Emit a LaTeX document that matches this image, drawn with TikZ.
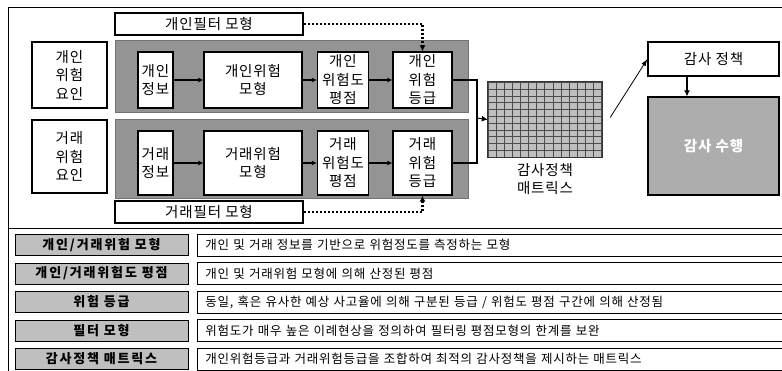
\documentclass[tikz,border=0pt]{standalone}
\usepackage{fontspec}
\usepackage{tikz}
\usetikzlibrary{arrows.meta}
\newfontfamily\kr[LetterSpace=6]{Noto Sans CJK KR}
\newfontfamily\krl[LetterSpace=14]{Noto Sans CJK KR}

\begin{document}
\begin{tikzpicture}[x=1pt,y=-1pt,
	box/.style={draw,line width=1.2pt,fill=white,align=center,inner sep=0pt,font=\kr\fontsize{14.5}{18.5}\selectfont},
	panel/.style={draw=black!55,fill=black!42,inner sep=0pt},
	flow/.style={line width=1.1pt,-{Latex[length=5pt,width=5pt]}},
	dotline/.style={line width=2.2pt,dash pattern=on 2pt off 2pt,-{Latex[length=6pt,width=6pt]}},
	lab/.style={draw,line width=0.9pt,fill=black!25,inner sep=0pt,minimum width=173pt,minimum height=21pt,font=\krl\bfseries\fontsize{13}{15}\selectfont},
	desc/.style={draw,line width=0.9pt,anchor=west,inner xsep=8pt,inner ysep=0pt,minimum height=22pt,text width=584pt,align=left,font=\kr\fontsize{12.5}{14}\selectfont}]

	\useasboundingbox (0,0) rectangle (782,370);

	\draw[line width=1pt] (8,7) -- (790,7);
	\draw[line width=1pt] (8,7) -- (8,375);
	\draw[line width=1pt] (8,228) -- (790,228);

	\node[box,minimum width=188pt,minimum height=22pt] (fltA) at (209,24) {개인필터 모형};
	\node[box,minimum width=75pt,minimum height=66pt] (facA) at (69.5,75) {개인\\위험\\요인};
	\node[panel,minimum width=353pt,minimum height=72pt] (panA) at (291.5,76) {};
	\node[box,minimum width=35pt,minimum height=56pt] (infA) at (155.5,80) {개인\\정보};
	\node[box,minimum width=98pt,minimum height=56pt] (mdlA) at (253,80) {개인위험\\모형};
	\node[box,minimum width=51pt,minimum height=56pt] (scrA) at (343,80) {개인\\위험도\\평점};
	\node[box,minimum width=59pt,minimum height=56pt] (grdA) at (422.5,80) {개인\\위험\\등급};

	\node[box,minimum width=75pt,minimum height=73pt] (facB) at (69.5,156.5) {거래\\위험\\요인};
	\node[panel,minimum width=353pt,minimum height=79pt] (panB) at (291.5,158.5) {};
	\node[box,minimum width=35pt,minimum height=64pt] (infB) at (155.5,163) {거래\\정보};
	\node[box,minimum width=98pt,minimum height=64pt] (mdlB) at (253,163) {거래위험\\모형};
	\node[box,minimum width=51pt,minimum height=64pt] (scrB) at (343,163) {거래\\위험도\\평점};
	\node[box,minimum width=59pt,minimum height=64pt] (grdB) at (422.5,163) {거래\\위험\\등급};
	\node[box,minimum width=188pt,minimum height=22pt] (fltB) at (209,212) {거래필터 모형};

	\draw[flow] (infA) -- (mdlA);
	\draw[flow] (mdlA) -- (scrA);
	\draw[flow] (scrA) -- (grdA);
	\draw[flow] (infB) -- (mdlB);
	\draw[flow] (mdlB) -- (scrB);
	\draw[flow] (scrB) -- (grdB);

	\draw[dotline] (fltA.east) -| (grdA.north);
	\draw[dotline] (fltB.east) -| (grdB.south);

	\node[draw=black!70,fill=black!25,inner sep=0pt,minimum width=114pt,minimum height=75pt] (mtx) at (545,119.5) {};
	\draw[shift={(mtx.south west)},black!70,line width=0.6pt,xstep=8.14pt,ystep=6.82pt] (0pt,0pt) grid (114pt,75pt);
	\draw[black!80,line width=0.9pt] (mtx.south west) rectangle (mtx.north east);
	\node[align=center,font=\kr\fontsize{14.5}{18}\selectfont] (mtxl) at (545,179) {감사정책\\매트릭스};

	\coordinate (jn) at (477,118);
	\draw[line width=2pt] (grdA.east) -| (jn) |- (grdB.east);
	\draw[line width=1pt,-{Latex[length=6pt,width=6pt]}] (jn) -- (mtx.west);

	\node[box,minimum width=131pt,minimum height=34pt] (pol) at (713.5,59) {감사 정책};
	\node[draw,line width=1.2pt,fill=black!32,inner sep=0pt,minimum width=131pt,minimum height=98pt,text=white,font=\kr\bfseries\fontsize{14.5}{18}\selectfont] (exe) at (713.5,146) {감사 수행};
	\draw[line width=0.8pt,-{Latex[length=7pt,width=5pt]}] ([xshift=8pt,yshift=2pt]mtx.east) -- (pol.west);
	\draw[line width=1.6pt,-{Latex[length=6pt,width=6pt]}] ([xshift=-26.5pt]pol.south) -- ([xshift=-26.5pt]exe.north);

	\node[lab] (labA) at (101.5,245) {개인/거래위험 모형};
	\node[desc] (desA) at (197,245) {개인 및 거래 정보를 기반으로 위험정도를 측정하는 모형};
	\node[lab] (labB) at (101.5,273.5) {개인/거래위험도 평점};
	\node[desc] (desB) at (197,273.5) {개인 및 거래위험 모형에 의해 산정된 평점};
	\node[lab] (labC) at (101.5,302) {위험 등급};
	\node[desc] (desC) at (197,302) {동일, 혹은 유사한 예상 사고율에 의해 구분된 등급 / 위험도 평점 구간에 의해 산정됨};
	\node[lab] (labD) at (101.5,330.5) {필터 모형};
	\node[desc] (desD) at (197,330.5) {위험도가 매우 높은 이례현상을 정의하여 필터링 평점모형의 한계를 보완};
	\node[lab] (labE) at (101.5,359) {감사정책 매트릭스};
	\node[desc] (desE) at (197,359) {개인위험등급과 거래위험등급을 조합하여 최적의 감사정책을 제시하는 매트릭스};

\end{tikzpicture}
\end{document}
